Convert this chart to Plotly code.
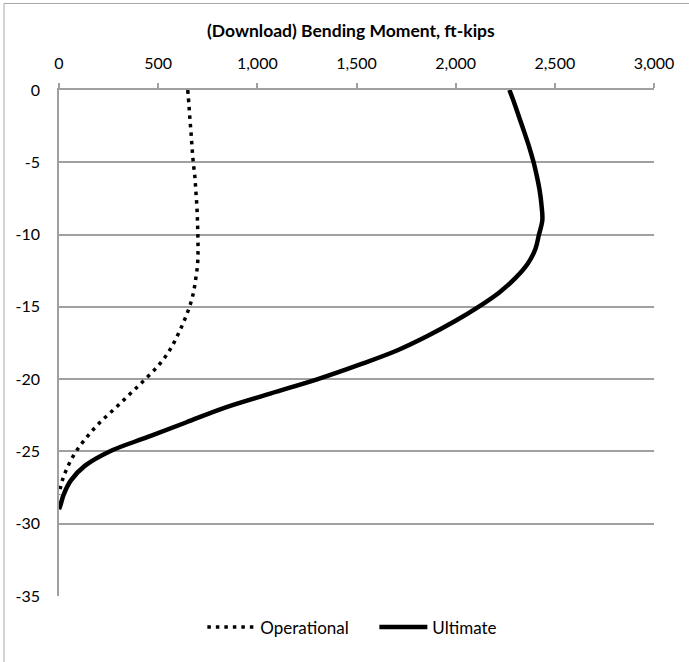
import plotly.graph_objects as go

# Depth (ft) and bending moment (ft-kips)
op_depth = [0, -1, -2, -3, -4, -5, -6, -7, -8, -9, -10, -11, -12, -13, -14,
            -15, -16, -17, -18, -19, -20, -21, -22, -23, -24, -25, -26, -27, -28]
op_moment = [649, 655, 660, 666, 671, 677, 685, 690, 695, 698, 700, 701, 699, 690, 678,
             658, 630, 597, 558, 505, 435, 360, 284, 206, 141, 86, 46, 17, 0]

ult_depth = [0, -1, -2, -3, -4, -5, -6, -7, -8, -9, -10, -11, -12, -13, -14,
             -15, -16, -17, -18, -19, -20, -21, -22, -23, -24, -25, -26, -27, -28, -28.6, -29]
ult_moment = [2271, 2298, 2323, 2348, 2372, 2393, 2410, 2424, 2433, 2437, 2420, 2402, 2364, 2302, 2220,
              2115, 1995, 1860, 1707, 1515, 1305, 1065, 830, 640, 448, 255, 130, 60, 23, 10, 0]

x_ticks = [0, 500, 1000, 1500, 2000, 2500, 3000]
x_tick_text = ["0", "500", "1,000", "1,500", "2,000", "2,500", "3,000"]
y_ticks = [0, -5, -10, -15, -20, -25, -30, -35]
y_tick_text = ["0", "-5", "-10", "-15", "-20", "-25", "-30", "-35"]

title_text = "(Download) Bending Moment, ft-kips"
FONT = "Lato, 'Open Sans', sans-serif"
GRID = "#a0a0a0"

fig = go.Figure()
fig.add_trace(go.Scatter(
    x=op_moment, y=op_depth, mode="lines", name="Operational",
    line=dict(color="black", width=3.5, dash="3.5px,5px", shape="spline", smoothing=1.0),
))
fig.add_trace(go.Scatter(
    x=ult_moment, y=ult_depth, mode="lines", name="Ultimate",
    line=dict(color="black", width=4.5, shape="spline", smoothing=1.0),
))

fig.update_layout(
    width=689, height=662,
    margin=dict(l=59, r=35, t=90, b=66),
    paper_bgcolor="white", plot_bgcolor="white",
    font=dict(family=FONT, size=16, color="black"),
    showlegend=True,
    legend=dict(orientation="h", x=0.53, xanchor="center", y=-0.062, yanchor="middle",
                font=dict(size=17), itemwidth=48, entrywidth=109, tracegroupgap=0),
    xaxis=dict(
        side="top", range=[0, 3000], tickvals=x_ticks, ticktext=x_tick_text,
        showgrid=False, zeroline=False, showline=True, linecolor=GRID, linewidth=1.5,
        ticks="outside", ticklen=5, tickcolor=GRID, tickwidth=1.5,
        ticklabelstandoff=8, tickfont=dict(size=16),
    ),
    yaxis=dict(
        range=[-35, 0], tickvals=y_ticks, ticktext=y_tick_text,
        showgrid=True, gridcolor=GRID, gridwidth=1.5, zeroline=False,
        showline=True, linecolor=GRID, linewidth=1.5, ticks="",
        ticklabelstandoff=14, tickfont=dict(size=16),
    ),
    annotations=[dict(
        text="<b>" + title_text + "</b>", xref="paper", yref="paper",
        x=0.49, y=1.118, xanchor="center", yanchor="middle", showarrow=False,
        font=dict(size=17.5, family=FONT),
    )],
    shapes=[dict(
        type="rect", xref="paper", yref="paper",
        x0=-0.0924, x1=1.08, y0=-0.15, y1=1.171,
        line=dict(color="#a6a6a6", width=1), layer="below",
    )],
)

fig.write_html("out.html", config={"displayModeBar": False},
               post_script="document.body.style.margin='0';")
